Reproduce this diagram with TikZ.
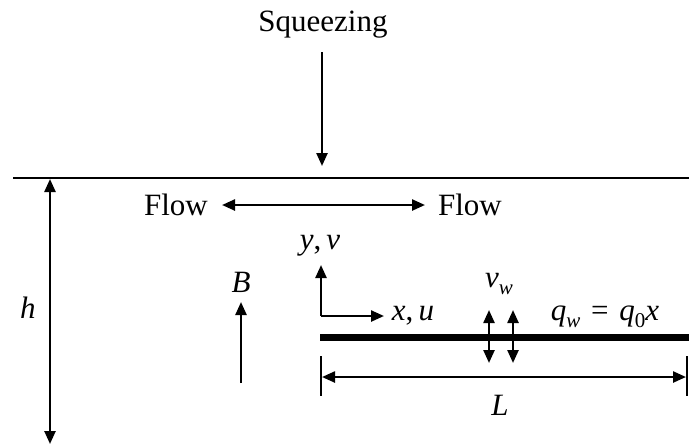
\documentclass[tikz,border=0pt]{standalone}
\usepackage{fontspec}
\setmainfont{Liberation Serif}
\usetikzlibrary{arrows.meta}
\newcommand{\mysub}[1]{\raisebox{-0.5ex}{\fontsize{10.5}{12}\selectfont #1}}
\begin{document}
\begin{tikzpicture}[x=0.5pt,y=-0.5pt,
  tip/.style={-{Triangle[length=6.5pt,width=5.5pt]}},
  dtip/.style={{Triangle[length=6.5pt,width=5.5pt]}-{Triangle[length=6.5pt,width=5.5pt]}},
  ln/.style={line width=1.2pt},
  lbl/.style={inner sep=0pt,font=\fontsize{15.5}{18}\selectfont}]
\useasboundingbox (0,0) rectangle (689,446);
% top wall
\coordinate (wl) at (13,178);
\coordinate (wr) at (689,178);
\draw[ln] (wl) -- (wr);
% squeezing
\node[lbl] (sq) at (323,25) {Squeezing};
\coordinate (sqa) at (322,52);
\coordinate (sqb) at (322,166);
\draw[ln,tip] (sqa) -- (sqb);
% flow
\node[lbl] (fl) at (176,205) {Flow};
\node[lbl] (fr) at (470,205) {Flow};
\coordinate (fa) at (222,205);
\coordinate (fb) at (425,205);
\draw[ln,dtip] (fa) -- (fb);
% h
\coordinate (ha) at (50,179);
\coordinate (hb) at (50,444);
\draw[ln,dtip] (ha) -- (hb);
\node[lbl] (h) at (28,308) {\textit{h}};
% B
\node[lbl] (B) at (241,282) {\textit{B}};
\coordinate (ba) at (241,383);
\coordinate (bb) at (241,302);
\draw[ln,tip] (ba) -- (bb);
% axes
\coordinate (o) at (321,316);
\coordinate (yax) at (321,265);
\coordinate (xax) at (384,316);
\draw[ln,tip] (o) -- (yax);
\draw[ln,tip] (o) -- (xax);
\node[lbl] (yv) at (320,246) {\textit{y},\,\textit{v}};
\node[lbl] (xu) at (413,316) {\textit{x},\,\textit{u}};
% plate
\coordinate (pa) at (320,337);
\coordinate (pb) at (689,337);
\draw[line width=3.5pt] (pa) -- (pb);
% suction arrows
\coordinate (v1a) at (489,310);
\coordinate (v1b) at (489,363);
\coordinate (v2a) at (513,310);
\coordinate (v2b) at (513,363);
\draw[ln,dtip] (v1a) -- (v1b);
\draw[ln,dtip] (v2a) -- (v2b);
\node[lbl] (vw) at (499,284) {\textit{v}\mysub{\textit{w}}};
\node[lbl] (qw) at (605,317) {\textit{q}\mysub{\textit{w}}\hspace{0.35em}=\hspace{0.35em}\textit{q}\mysub{0}\textit{x}};
% L dimension
\coordinate (t1a) at (321,356);
\coordinate (t1b) at (321,396);
\coordinate (t2a) at (687,356);
\coordinate (t2b) at (687,396);
\draw[ln] (t1a) -- (t1b);
\draw[ln] (t2a) -- (t2b);
\coordinate (la) at (322,377);
\coordinate (lb) at (686,377);
\draw[ln,dtip] (la) -- (lb);
\node[lbl] (L) at (500,405) {\textit{L}};
\end{tikzpicture}
\end{document}
